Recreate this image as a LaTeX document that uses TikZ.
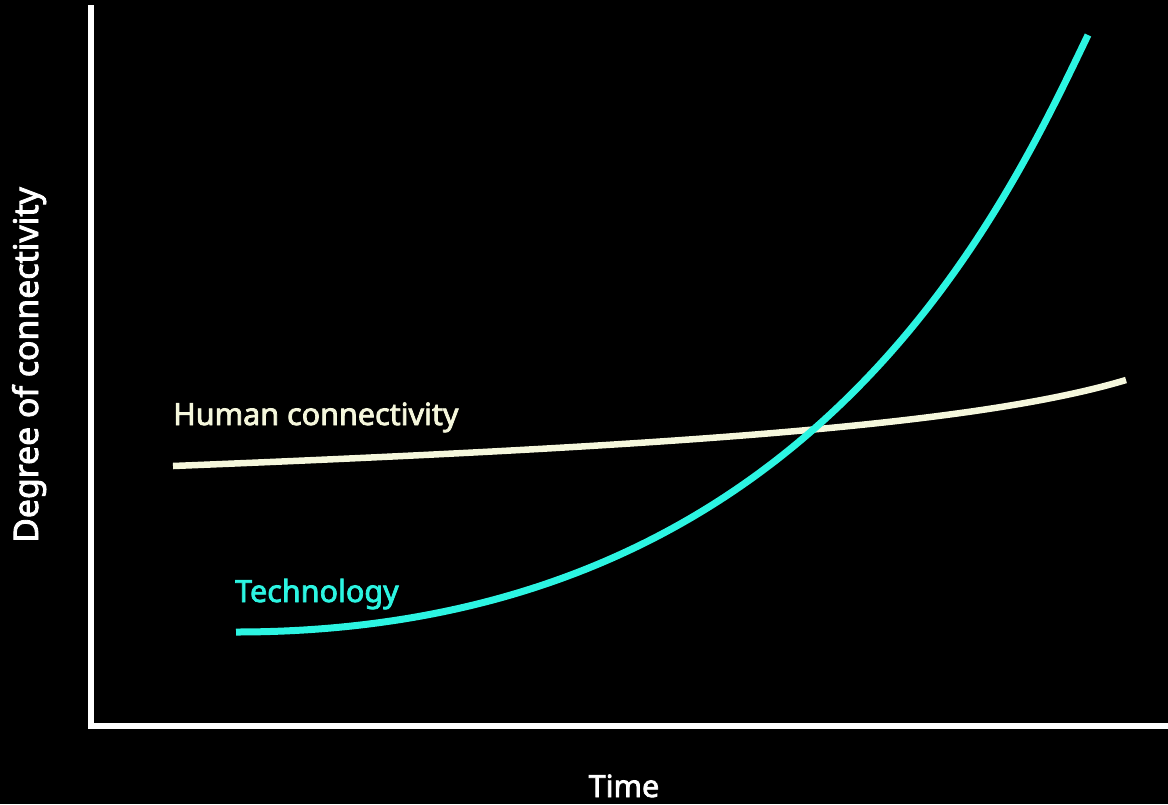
\documentclass[tikz,border=0pt]{standalone}
\usepackage{fontspec}
\newfontfamily\labfont{Noto Sans}[FakeBold=2.5]
\definecolor{techcyan}{RGB}{44,245,226}
\definecolor{humancream}{RGB}{245,247,220}
\tikzset{
  axisline/.style={draw=white, line width=6.5pt},
  techline/.style={draw=techcyan, line width=7pt},
  humanline/.style={draw=humancream, line width=6.5pt},
  lab/.style={font=\labfont\fontsize{30.5}{33}\selectfont, inner sep=0pt},
}
\begin{document}
\begin{tikzpicture}[x=1pt,y=-1pt]
\fill[black] (0,0) rectangle (1168,804);
\useasboundingbox (0,0) rectangle (1168,804);
\coordinate (ytop) at (91,5);
\coordinate (origin) at (91,726);
\coordinate (xend) at (1168,726);
\draw[axisline] (ytop) -- (origin) -- (xend);
\node[lab, text=white, anchor=base] (xlabel) at (624,797) {Time};
\node[lab, text=white, anchor=base, rotate=90, font=\labfont\fontsize{33.8}{36}\selectfont] (ylabel) at (38,365) {Degree of connectivity};
\coordinate (h0) at (173,466);
\coordinate (h1) at (1126,380);
\draw[humanline] (h0) .. controls (673,446) and (976,425) .. (h1);
\coordinate (t0) at (236,632);
\coordinate (t1) at (1088,35);
\draw[techline] (t0) .. controls (810,632) and (1003,212) .. (t1);
\node[lab, text=humancream, anchor=base west] (humanlabel) at (173,425) {Human connectivity};
\node[lab, text=techcyan, anchor=base west] (techlabel) at (235,602) {Technology};
\end{tikzpicture}
\end{document}
